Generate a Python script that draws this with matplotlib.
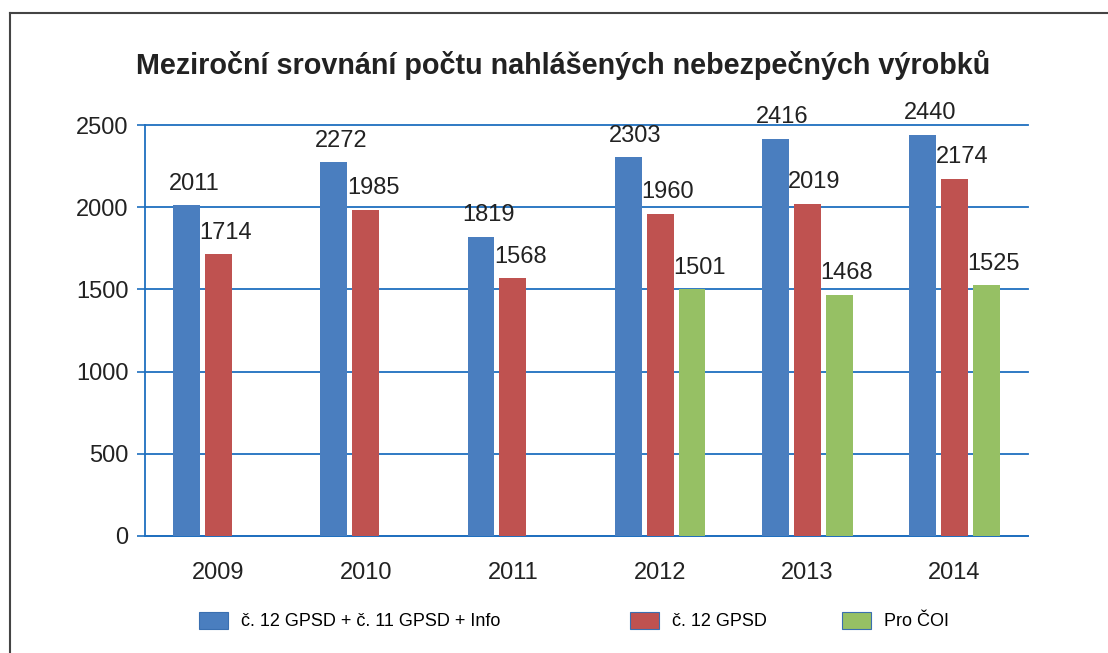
import numpy as np
import matplotlib.pyplot as plt
from matplotlib.patches import Patch
from matplotlib.lines import Line2D

years = ["2009", "2010", "2011", "2012", "2013", "2014"]
total = [2011, 2272, 1819, 2303, 2416, 2440]
gpsd12 = [1714, 1985, 1568, 1960, 2019, 2174]
pro_coi = [np.nan, np.nan, np.nan, 1501, 1468, 1525]
names = ["č. 12 GPSD + č. 11 GPSD + Info", "č. 12 GPSD", "Pro ČOI"]
colors = ["#4a7ebf", "#bf5250", "#96c064"]
grid_col = "#1f6fbf"

plt.rcParams['font.family'] = ['Liberation Sans', 'DejaVu Sans']

fig = plt.figure(figsize=(11.08, 6.53), dpi=100)
ax = fig.add_axes([145/1108, 117/653, 883/1108, 411/653])

x = np.arange(len(years))
w = 0.183
off = 0.217
for i, (vals, c) in enumerate(zip([total, gpsd12, pro_coi], colors)):
    pos = x + (i - 1) * off
    ax.bar(pos, vals, width=w, color=c, zorder=3)
    for p, v in zip(pos, vals):
        if np.isnan(v):
            continue
        ax.text(p + 0.05, v + 65, str(int(v)), ha='center', va='bottom',
                fontsize=17, color='#222222')

ax.set_xlim(-0.5, len(years) - 0.5)
ax.set_ylim(0, 2500)
ax.set_yticks(np.arange(0, 2501, 500))
ax.set_xticks(x)
ax.set_xticklabels(years)
ax.yaxis.grid(True, color=grid_col, linewidth=1.3, zorder=0, clip_on=False)
ax.tick_params(axis='y', direction='out', length=6, width=1.2, color=grid_col,
               labelsize=17, pad=6, labelcolor='#222222')
ax.tick_params(axis='x', length=0, labelsize=17, pad=19, labelcolor='#222222')
for s in ['top', 'right']:
    ax.spines[s].set_visible(False)
ax.spines['left'].set_color(grid_col)
ax.spines['bottom'].set_color(grid_col)
ax.spines['left'].set_linewidth(1.3)
ax.spines['bottom'].set_linewidth(1.3)

fig.text(563/1108, 1 - 65/653, "Meziroční srovnání počtu nahlášených nebezpečných výrobků",
         ha='center', va='center', fontsize=20.7, fontweight='bold', color='#222222')

# legend, one entry per block
leg_x = [183/1108, 614/1108, 826/1108]
for name, c, lx in zip(names, colors, leg_x):
    h = Patch(facecolor=c, edgecolor='#3a6fb0', linewidth=0.8)
    fig.legend(handles=[h], labels=[name], loc='center left',
               bbox_to_anchor=(lx, 1 - 621/653), frameon=False, fontsize=13,
               handlelength=1.6, handleheight=1.1, handletextpad=0.7)

# outer frame (left and top edges)
fig.add_artist(Line2D([10/1108, 10/1108], [0, 1 - 13/653], transform=fig.transFigure,
                      color='#444444', linewidth=1.5))
fig.add_artist(Line2D([10/1108, 1], [1 - 13/653, 1 - 13/653], transform=fig.transFigure,
                      color='#444444', linewidth=1.5))

fig.savefig("out.png", dpi=100)
